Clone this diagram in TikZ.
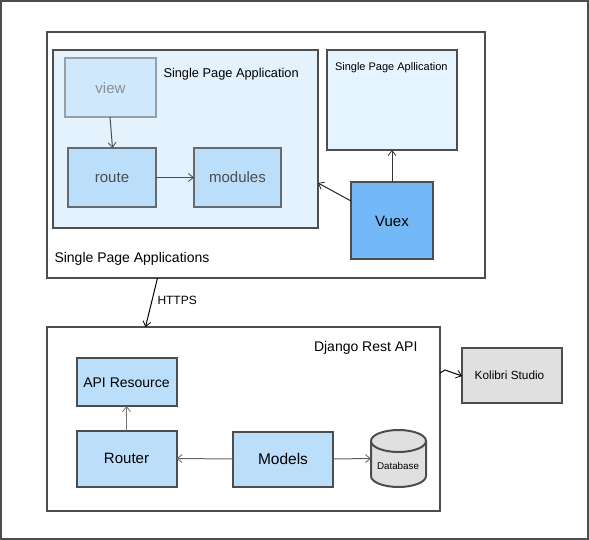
\documentclass[tikz,border=0pt]{standalone}
\usepackage{fontspec}
\setmainfont{Liberation Sans}
\usetikzlibrary{arrows.meta,shapes.geometric}
\definecolor{edge}{HTML}{4D4D4D}
\definecolor{pale}{HTML}{E3F2FD}
\definecolor{paler}{HTML}{E6F4FF}
\definecolor{blue1}{HTML}{BBDEFB}
\definecolor{blue2}{HTML}{73B9F7}
\definecolor{greyf}{HTML}{E0E0E0}
\tikzset{
  x=1pt,y=-1pt,
  px/.style={inner sep=0pt,outer sep=0pt,font=\fontsize{#1}{#1}\selectfont},
  frame/.style={draw=edge,line width=2pt,fill=#1,inner sep=0pt,outer sep=0pt},
  conn/.style={draw=#1,line width=1pt,-{Straight Barb[length=5pt,width=8pt,line width=0.8pt]},shorten >=0pt},
  conn/.default={black!85}
}
\newcommand{\boxat}[6]{\node[frame=#6,minimum width=#4-#2,minimum height=#5-#3,anchor=north west] (#1) at (#2,#3) {};}
\newcommand{\nudge}[1]{\raisebox{-1pt}[\height][\depth]{#1}}
\begin{document}
\begin{tikzpicture}
\useasboundingbox (0,0) rectangle (589,540);
\boxat{outer}{1}{1}{588}{539}{white}
\boxat{spas}{47}{32}{485}{278}{white}
\boxat{spaa}{53}{50}{318}{228}{pale}
\boxat{spab}{327}{50}{457}{150}{paler}
\node[frame=blue1!50!pale,draw=edge!50!pale,minimum width=91pt,minimum height=59pt,anchor=north west,text=edge!60!pale,px=15] (view) at (65,58) {\nudge{view}};
\node[frame=blue1,draw=edge!80!blue1,minimum width=88pt,minimum height=59pt,anchor=north west,text=edge,px=15] (route) at (68,148) {route};
\node[frame=blue1,draw=edge!80!blue1,minimum width=87pt,minimum height=59pt,anchor=north west,text=edge,px=15] (modules) at (194,148) {modules};
\node[frame=blue2,minimum width=82pt,minimum height=77pt,anchor=north west,px=15] (vuex) at (351,182) {\nudge{Vuex}};
\boxat{django}{47}{327}{440}{511}{white}
\node[frame=blue1,minimum width=100pt,minimum height=48pt,anchor=north west,px=14] (api) at (76.5,358) {\nudge{API Resource}};
\node[frame=blue1,minimum width=100pt,minimum height=56pt,anchor=north west,px=15] (router) at (76.5,430.5) {Router};
\node[frame=blue1,minimum width=100pt,minimum height=55pt,anchor=north west,px=15.5] (models) at (233,431.5) {Models};
\node[frame=greyf,minimum width=100pt,minimum height=55pt,anchor=north west,px=11.8] (kolibri) at (462,348) {\kern-5pt Kolibri Studio};
% database
\node[inner sep=0pt,minimum width=55pt,minimum height=57pt,anchor=north west] (db) at (371,430) {};
\draw[edge,line width=2pt,fill=greyf] (db.north west)++(0,11) coordinate (dbt) -- ++(0,35) arc[x radius=27.5,y radius=11,start angle=180,end angle=0] -- ++(0,-35) arc[x radius=27.5,y radius=11,start angle=0,end angle=-180] -- cycle;
\draw[edge,line width=2pt] (dbt) arc[x radius=27.5,y radius=11,start angle=180,end angle=0];
\node[px=9.8,anchor=center] (dbl) at (398,466) {Database};
% labels
\node[px=12.8,anchor=west] (l1) at (163.5,74) {Single Page Application};
\node[px=11,anchor=west] (l2) at (335,67.5) {Single Page Apllication};
\node[px=14,anchor=west] (l3) at (54.5,258.5) {Single Page Applications};
\node[px=14,anchor=west] (l4) at (314,348) {Django Rest API};
\node[px=12,anchor=west] (l5) at (157.5,300.5) {HTTPS};
% connectors
\draw[conn=edge] ([xshift=-0.5pt]view.south) -- ([xshift=0.5pt]route.north);
\draw[conn=edge] (route.east) -- (modules.west);
\draw[conn=black!80] (vuex.north) -- (spab.south);
\draw[conn=black!85] ([yshift=19.5pt]vuex.west) -- ([yshift=-44pt]spaa.east);
\draw[conn=black] ([xshift=-108.5pt]spas.south) -- ([xshift=-98pt]django.north);
\draw[conn=edge!80] (router.north) -- (api.south);
\draw[conn=edge!85] (models.west) -- (router.east);
\draw[conn=edge!90] (models.east) -- (db.west |- 0,458.5);
\coordinate (kink) at (445,370);
\draw[conn=black] ([yshift=46pt]django.east) -- (kink) -- ([yshift=-0.5pt]kolibri.west);
\end{tikzpicture}
\end{document}
